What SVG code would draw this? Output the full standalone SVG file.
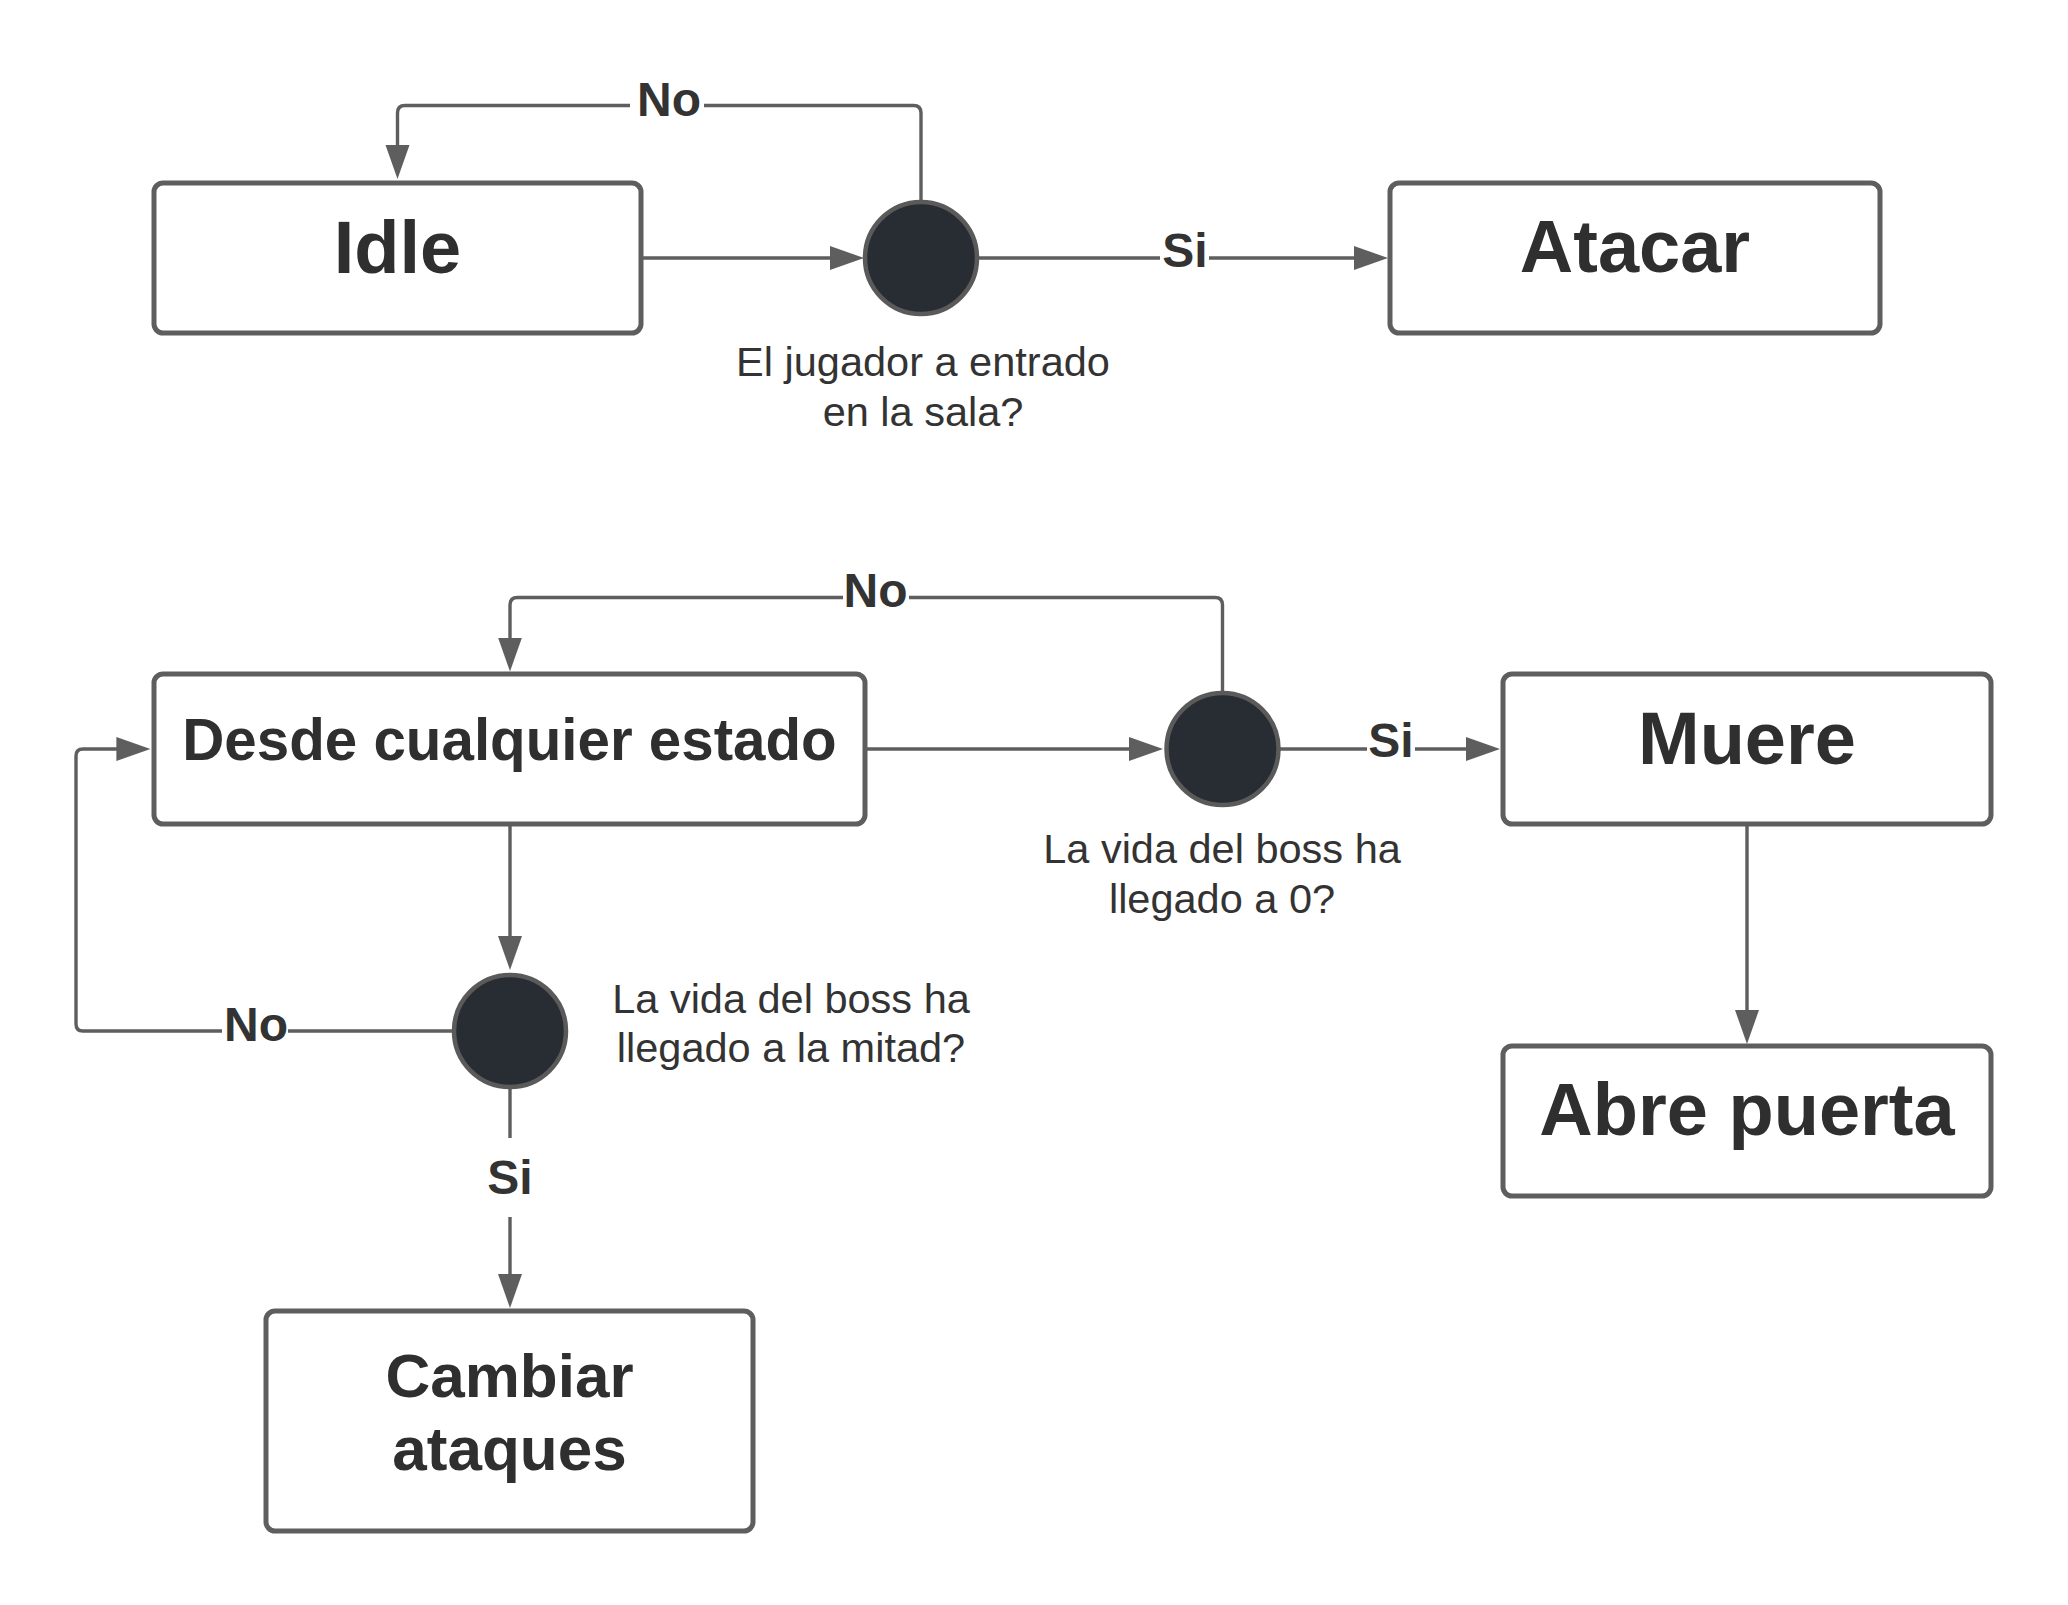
<svg xmlns="http://www.w3.org/2000/svg" width="2068" height="1605" viewBox="0 0 2068 1605">
<style>
.box{fill:#ffffff;stroke:#5e5e5e;stroke-width:5}
.dec{fill:#282c33;stroke:#5a5a5a;stroke-width:4.5}
.big{font-family:"Liberation Sans",Arial,sans-serif;font-weight:bold;fill:#2f2f2f;text-anchor:middle}
.q{font-family:"Liberation Sans",Arial,sans-serif;font-size:41.5px;fill:#333333;text-anchor:middle}
.lbl{font-family:"Liberation Sans",Arial,sans-serif;font-weight:bold;font-size:48px;fill:#333333;text-anchor:middle}
.con{fill:none;stroke:#5e5e5e;stroke-width:3.4}
.bg{fill:#ffffff}
</style>
<defs>
<marker id="arr" markerUnits="userSpaceOnUse" markerWidth="36" markerHeight="26" refX="24" refY="12" orient="auto">
<path d="M0,0 L34,12 L0,24 z" fill="#5e5e5e"/>
</marker>
</defs>
<rect width="2068" height="1605" fill="#ffffff"/>
<g id="connectors">
<path class="con" d="M643,258 H854" marker-end="url(#arr)"/>
<path class="con" d="M921,201 V113 Q921,105.5 913.5,105.5 H405 Q397.5,105.5 397.5,113 V169" marker-end="url(#arr)"/>
<path class="con" d="M978,258 H1378" marker-end="url(#arr)"/>
<path class="con" d="M867,749 H1153" marker-end="url(#arr)"/>
<path class="con" d="M1222.5,692 V605 Q1222.5,597.5 1215,597.5 H517.5 Q510,597.5 510,605 V661.5" marker-end="url(#arr)"/>
<path class="con" d="M1280,749 H1490" marker-end="url(#arr)"/>
<path class="con" d="M1747,826 V1034" marker-end="url(#arr)"/>
<path class="con" d="M510,826 V960" marker-end="url(#arr)"/>
<path class="con" d="M453,1031 H83 Q76,1031 76,1024 V756 Q76,749 83,749 H140.4" marker-end="url(#arr)"/>
<path class="con" d="M510,1088 V1298" marker-end="url(#arr)"/>
<g id="labels">
<rect class="bg" x="630" y="78" width="74" height="44"/>
<text class="lbl" x="669" y="115.5">No</text>
<rect class="bg" x="1160" y="230" width="49" height="44"/>
<text class="lbl" x="1185" y="267">Si</text>
<rect class="bg" x="843" y="570" width="66" height="44"/>
<text class="lbl" x="875.5" y="607">No</text>
<rect class="bg" x="1367" y="720" width="48" height="44"/>
<text class="lbl" x="1391" y="757">Si</text>
<rect class="bg" x="222" y="1004" width="66" height="44"/>
<text class="lbl" x="256" y="1041">No</text>
<rect class="bg" x="480" y="1138" width="60" height="79"/>
<text class="lbl" x="510" y="1194">Si</text>
</g>
</g>
<g id="idle">
<rect class="box" x="154" y="183" width="487" height="150" rx="9"/>
<text class="big" x="397.5" y="273" font-size="74">Idle</text>
</g>
<g id="atacar">
<rect class="box" x="1390" y="183" width="490" height="150" rx="9"/>
<text class="big" x="1635" y="272" font-size="74">Atacar</text>
</g>
<g id="decision-jugador">
<circle class="dec" cx="921" cy="258" r="56"/>
<text class="q" x="923" y="376">El jugador a entrado</text>
<text class="q" x="923" y="426">en la sala?</text>
</g>
<g id="desde">
<rect class="box" x="154" y="674" width="711" height="150" rx="9"/>
<text class="big" x="509.5" y="760" font-size="58.3">Desde cualquier estado</text>
</g>
<g id="decision-vida0">
<circle class="dec" cx="1222.5" cy="749" r="56"/>
<text class="q" x="1222" y="862.5">La vida del boss ha</text>
<text class="q" x="1222" y="912.5">llegado a 0?</text>
</g>
<g id="muere">
<rect class="box" x="1503" y="674" width="488" height="150" rx="9"/>
<text class="big" x="1747" y="764" font-size="74">Muere</text>
</g>
<g id="abre-puerta">
<rect class="box" x="1503" y="1046" width="488" height="150" rx="9"/>
<text class="big" x="1747" y="1135" font-size="74">Abre puerta</text>
</g>
<g id="decision-mitad">
<circle class="dec" cx="510" cy="1031" r="56"/>
<text class="q" x="791" y="1013">La vida del boss ha</text>
<text class="q" x="791" y="1062">llegado a la mitad?</text>
</g>
<g id="cambiar">
<rect class="box" x="266" y="1311" width="487" height="220" rx="9"/>
<text class="big" x="509.5" y="1397" font-size="62">Cambiar</text>
<text class="big" x="509.5" y="1469.5" font-size="62">ataques</text>
</g>
</svg>
